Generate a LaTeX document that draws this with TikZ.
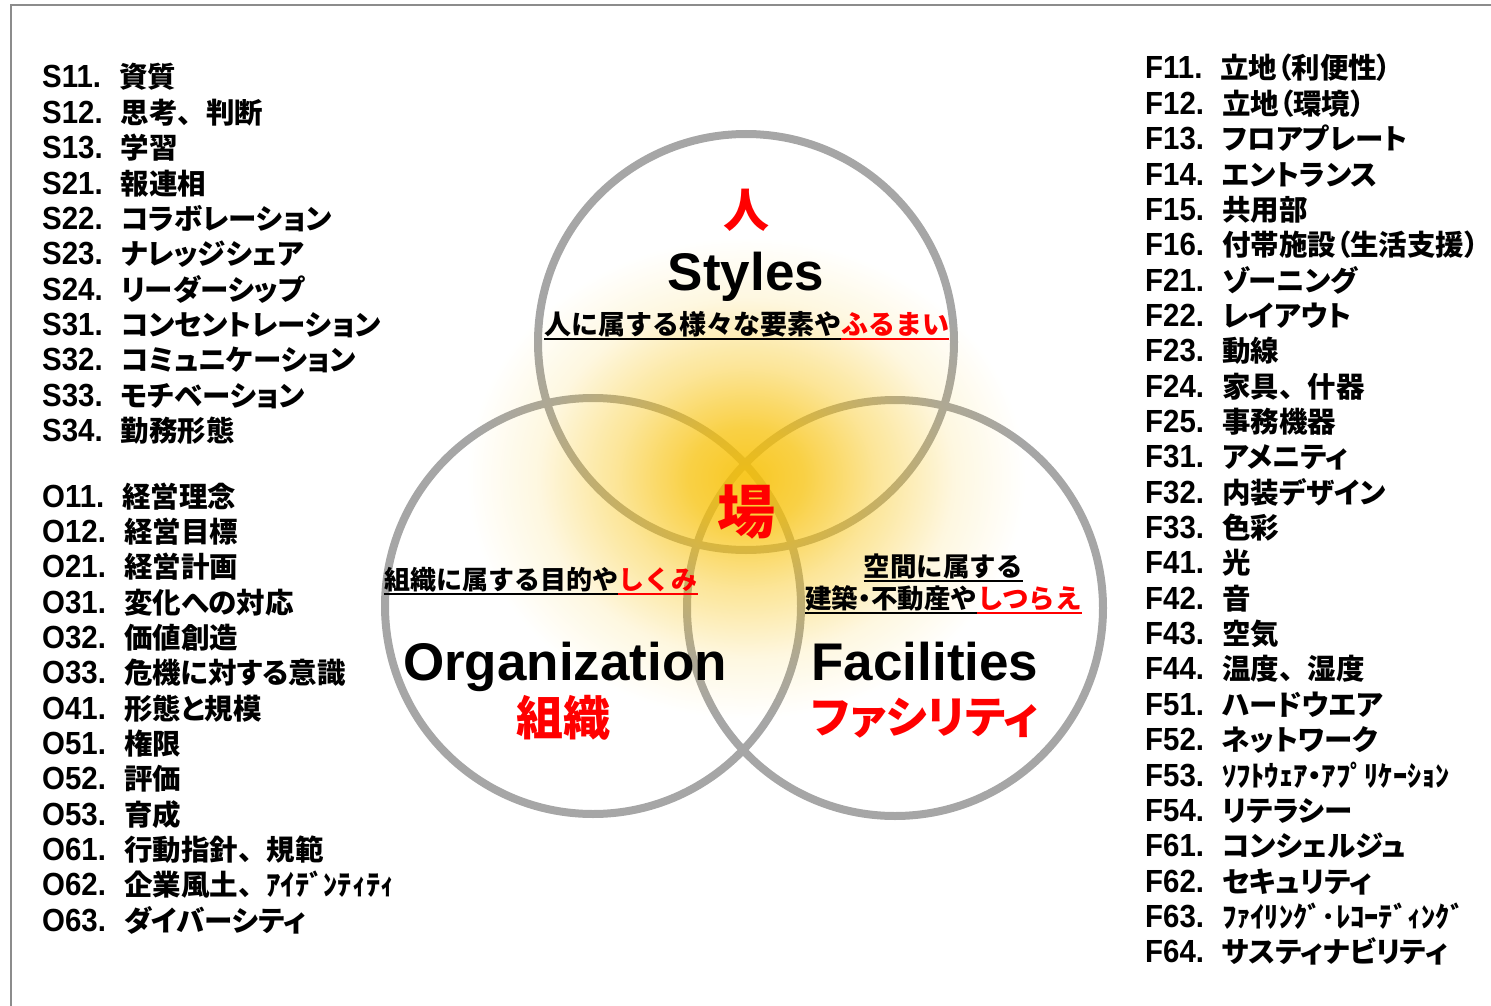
\documentclass[tikz,border=0pt]{standalone}
\usepackage{fontspec}
\usetikzlibrary{fadings}
\newfontfamily\jpf{Noto Sans CJK JP}
\newfontfamily\jpp{Noto Sans CJK JP}[RawFeature=+palt]
\newfontfamily\latf{Liberation Sans}
\newfontfamily\latn{Liberation Sans}[FakeStretch=0.92]
\newcommand\pp[1]{{\addfontfeature{RawFeature=+palt}#1}}
\newcommand\fw[1]{{\jpf #1}}
\newcommand\itm[2]{{\latn\bfseries\fontsize{32}{32}\selectfont #1}\hspace{18pt}{\jpp\bfseries\fontsize{28.5}{28.5}\selectfont #2}}
\newcommand\ul[1]{\setbox0=\hbox{#1}\rlap{\rule[-5.5pt]{\wd0}{1.8pt}}\box0}
\definecolor{ringgray}{RGB}{166,166,166}
\definecolor{framegray}{RGB}{140,140,140}
\definecolor{glowc}{RGB}{247,192,4}
\pgfdeclareradialshading{glowshade}{\pgfpoint{0bp}{0bp}}{color(0bp)=(white!88!black); color(5bp)=(white!74!black); color(11bp)=(white!42!black); color(18bp)=(white!12!black); color(24bp)=(black); color(50bp)=(black)}
\pgfdeclarefading{glowfade}{\pgfuseshading{glowshade}}
\tikzset{
  ring/.style={circle, draw=ringgray, line width=8pt, minimum size=416pt, inner sep=0pt},
  item/.style={anchor=base west, inner sep=0pt},
  desc/.style={anchor=base, inner sep=0pt, font=\jpf\bfseries\fontsize{26.5}{26.5}\selectfont},
  big/.style={anchor=base, inner sep=0pt, font=\latf\bfseries\fontsize{53}{53}\selectfont},
  redj/.style={inner sep=0pt, text=red}
}
\begin{document}
\begin{tikzpicture}[x=1pt,y=-1pt]
\useasboundingbox (0,0) rectangle (1491,1006);
\draw[framegray, line width=2.5pt] (11,1015) -- (11,5) -- (1500,5);
% circles
\node[ring] (cS) at (746,342) {};
\node[ring] (cO) at (593,606) {};
\node[ring] (cF) at (895,608) {};
% glow
\fill[glowc, path fading=glowfade, fit fading=true] (746,478) ellipse [x radius=290pt, y radius=250pt];
% left lists
\foreach \a/\b [count=\i from 0] in {S11./資質, S12./思考\fw{、}判断, S13./学習, S21./報連相, S22./コラボレーション, S23./ナレッジシェア, S24./リーダーシップ, S31./コンセントレーション, S32./コミュニケーション, S33./モチベーション, S34./勤務形態}
  \node[item] (s\i) at (42,{88+35.35*\i}) {\itm{\a}{\b}};
\foreach \a/\b [count=\i from 0] in {O11./経営理念, O12./経営目標, O21./経営計画, O31./変化への対応, O32./価値創造, O33./危機に対する意識, O41./形態と規模, O51./権限, O52./評価, O53./育成, O61./行動指針\fw{、}規範, O62./企業風土\fw{、}ｱｲﾃﾞﾝﾃｨﾃｨ, O63./ダイバーシティ}
  \node[item] (o\i) at (42,{507+35.35*\i}) {\itm{\a}{\b}};
% right list
\foreach \a/\b [count=\i from 0] in {F11./立地（利便性）, F12./立地（環境）, F13./フロアプレート, F14./エントランス, F15./共用部, F16./付帯施設（生活支援）, F21./ゾーニング, F22./レイアウト, F23./動線, F24./家具\fw{、}什器, F25./事務機器, F31./アメニティ, F32./内装デザイン, F33./色彩, F41./光, F42./音, F43./空気, F44./温度\fw{、}湿度, F51./ハードウエア, F52./ネットワーク, F53./ｿﾌﾄｳｪｱ・ｱﾌﾟﾘｹｰｼｮﾝ, F54./リテラシー, F61./コンシェルジュ, F62./セキュリティ, F63./ﾌｧｲﾘﾝｸﾞ･ﾚｺｰﾃﾞｨﾝｸﾞ, F64./サスティナビリティ}
  \node[item] (f\i) at (1145,{79+35.35*\i}) {\itm{\a}{\b}};
% Styles
\node[redj, font=\jpf\bfseries\fontsize{46}{46}\selectfont] (hito) at (746.5,210) {人};
\node[big] (sty) at (746,290) {Styles};
\node[desc, font=\jpf\bfseries\fontsize{27}{27}\selectfont] (sdesc) at (746.5,334) {\ul{人に属する様々な要素や}\textcolor{red}{\ul{ふるまい}}};
% center
\node[redj, font=\jpf\bfseries\fontsize{58}{58}\selectfont] (ba) at (746,512) {場};
% Organization
\node[desc, font=\jpf\bfseries\fontsize{26}{26}\selectfont] (odesc) at (541,589) {\ul{組織に属する目的や}\textcolor{red}{\ul{しくみ}}};
\node[big] (org) at (565,680) {Organization};
\node[redj, font=\jpf\bfseries\fontsize{47}{47}\selectfont] (soshiki) at (563,718) {組織};
% Facilities
\node[desc] (fdesc1) at (943,576) {\ul{空間に属する}};
\node[desc] (fdesc2) at (943.5,608) {\ul{建築\pp{・}不動産や}\textcolor{red}{\ul{しつらえ}}};
\node[big] (fac) at (925,680) {Facilities};
\node[redj, font=\jpp\bfseries\fontsize{44}{44}\selectfont] (fasi) at (925,718) {ファシリティ};
\end{tikzpicture}
\end{document}
